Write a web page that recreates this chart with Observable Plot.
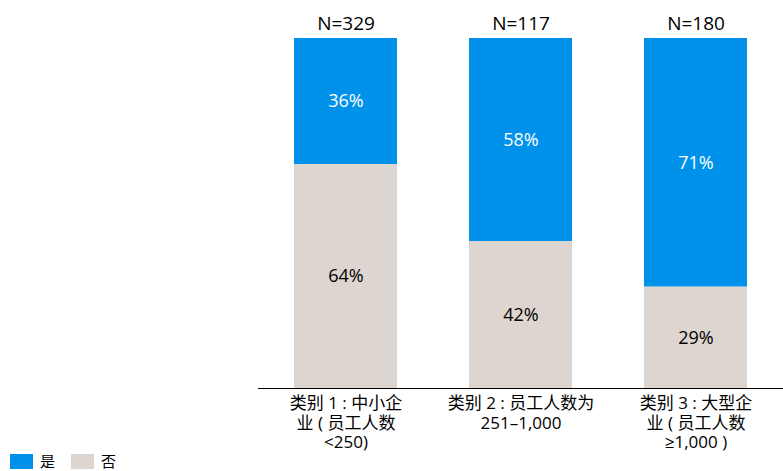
<!DOCTYPE html>
<html>
<head>
<meta charset="utf-8">
<script src="https://cdn.jsdelivr.net/npm/d3@7"></script>
<script src="https://cdn.jsdelivr.net/npm/@observablehq/plot@0.6"></script>
<style>
  html, body { margin: 0; padding: 0; background: #fff; }
  body { width: 783px; height: 471px; overflow: hidden; font-family: "Open Sans", "Noto Sans CJK SC", sans-serif; position: relative; }
  #legend { position: absolute; left: 10px; top: 453px; display: flex; align-items: center; font-size: 15px; color: #000; font-family: "Noto Sans CJK SC", sans-serif; }
  #legend .sw { width: 23px; height: 15px; display: inline-block; margin-right: 7px; }
  #legend .item { display: flex; align-items: center; margin-right: 16px; line-height: 16px; }
</style>
</head>
<body>
<div id="chart"></div>
<div id="legend"></div>
<script>
const categories = ["c1", "c2", "c3"];
const tickLabels = ["类别 1 : 中小企\n业 ( 员工人数\n<250)", "类别 2 : 员工人数为\n251–1,000", "类别 3 : 大型企\n业 ( 员工人数\n≥1,000 )"];
const nLabels = ["N=329", "N=117", "N=180"];
const yesValues = [36, 58, 71];
const noValues = [64, 42, 29];
const seriesNames = ["是", "否"];
const seriesColors = ["#0091EA", "#DDD5D0"];
const labelColors = ["#ffffff", "#000000"];

const rows = [];
categories.forEach((c, i) => {
  rows.push({cat: c, series: "否", value: noValues[i]});
  rows.push({cat: c, series: "是", value: yesValues[i]});
});
const tops = categories.map((c, i) => ({cat: c, total: yesValues[i] + noValues[i], n: nLabels[i]}));

const font = "'Open Sans', 'Noto Sans CJK SC', sans-serif";
const plot = Plot.plot({
  width: 783,
  height: 462,
  marginLeft: 258,
  marginRight: 0,
  marginTop: 38,
  marginBottom: 74,
  style: {fontFamily: font, background: "#fff"},
  x: {domain: categories, paddingInner: 0.41, paddingOuter: 0.2, axis: null},
  y: {domain: [0, 100], axis: null},
  color: {domain: seriesNames, range: seriesColors},
  marks: [
    Plot.barY(rows, Plot.stackY({x: "cat", y: "value", fill: "series", order: ["否", "是"]})),
    Plot.text(rows, Plot.stackY({
      x: "cat", y: "value", z: "series", order: ["否", "是"],
      text: d => d.value + "%",
      fill: d => labelColors[seriesNames.indexOf(d.series)],
      fontSize: 18
    })),
    Plot.text(tops, {x: "cat", y: "total", text: "n", dy: -15, fontSize: 19, fill: "#000"}),
    Plot.ruleY([0], {stroke: "#000", strokeWidth: 1}),
    Plot.axisX({
      label: null,
      tickSize: 0, tickPadding: 7, fontSize: 17, lineHeight: 1.15,
      tickFormat: c => tickLabels[categories.indexOf(c)],
      textAnchor: "middle", fill: "#000", color: "#000", textOverflow: null
    })
  ]
});
document.getElementById("chart").appendChild(plot);

const legend = document.getElementById("legend");
seriesNames.forEach((s, i) => {
  const item = document.createElement("span");
  item.className = "item";
  const sw = document.createElement("span");
  sw.className = "sw";
  sw.style.background = seriesColors[i];
  item.appendChild(sw);
  item.appendChild(document.createTextNode(s));
  legend.appendChild(item);
});
</script>
</body>
</html>
